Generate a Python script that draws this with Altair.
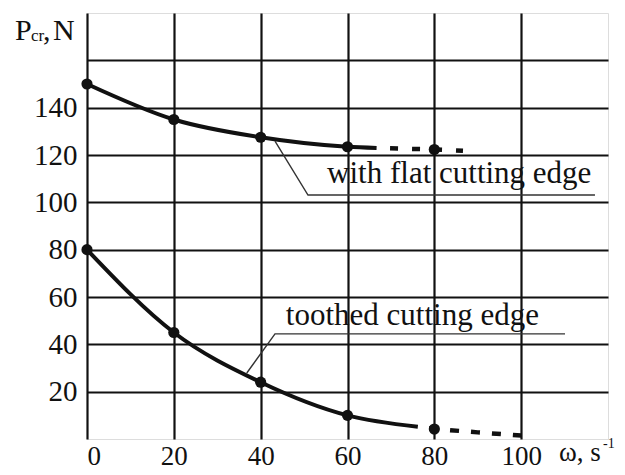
import altair as alt
import pandas as pd

# ---- data ----
omega = [0, 20, 40, 60, 80]
p_flat = [150, 135, 127.5, 123.5, 122.3]
p_tooth = [80, 45, 24, 10, 4.2]

flat_solid_w = [0, 20, 40, 60, 66.7]
flat_solid_p = [150, 135, 127.5, 123.5, 123.0]
flat_dash_w = [69.8, 80, 86.6]
flat_dash_p = [122.8, 122.3, 121.8]

tooth_solid_w = [0, 20, 40, 60, 76.2]
tooth_solid_p = [80, 45, 24, 10, 5.2]
tooth_dash_w = [78.8, 90, 100]
tooth_dash_p = [4.5, 2.8, 1.5]

x_ticks = [0, 20, 40, 60, 80, 100]
y_ticks = [20, 40, 60, 80, 100, 120, 140, 160]

labels = ["with flat cutting edge", "toothed cutting edge"]
label_w = [55.3, 45.8]
label_p = [108.2, 48.2]

leader_flat_w = [43.3, 50.9, 117.0]
leader_flat_p = [125.9, 103.1, 103.1]
leader_tooth_w = [36.8, 43.3, 110.1]
leader_tooth_p = [27.9, 44.4, 44.4]

# axis-title pieces (text, px offset from plot origin, font size)
title_txt = ["P", "cr", ",", "N", "ω, s", "-1"]
title_px = [-72, -56, -44, -34, 472, 516]
title_py = [27, 28, 27, 27, 448, 435]
title_fs = [30, 17, 30, 30, 27, 14]

FONT = "Liberation Serif"
INK = "#111111"

xs = alt.Scale(domain=[0, 120], nice=False, zero=False)
ys = alt.Scale(domain=[0, 180], nice=False, zero=False)


def df_line(w, p):
    return pd.DataFrame({"w": w, "p": p, "o": list(range(len(w)))})


X = alt.X("w:Q", scale=xs, axis=alt.Axis(values=x_ticks, grid=True, gridColor=INK, gridWidth=2.2,
                                          gridOpacity=1, domain=False, ticks=False, labelFont=FONT,
                                          labelFontSize=27, labelColor=INK, labelPadding=4, title=None))
Y = alt.Y("p:Q", scale=ys, axis=alt.Axis(values=y_ticks, grid=True, gridColor=INK, gridWidth=2.2,
                                          gridOpacity=1, domain=False, ticks=False, labelFont=FONT,
                                          labelFontSize=29, labelColor=INK, labelPadding=10, title=None,
                                          labelExpr="datum.value == 160 ? '' : datum.label"))

xp = alt.X("w:Q", scale=xs)
yp = alt.Y("p:Q", scale=ys)

base = alt.Chart(df_line(flat_solid_w, flat_solid_p)).mark_line(
    color=INK, strokeWidth=4, interpolate="monotone").encode(x=X, y=Y, order="o:Q")

layers = [base]
layers.append(alt.Chart(df_line(tooth_solid_w, tooth_solid_p)).mark_line(
    color=INK, strokeWidth=4, interpolate="monotone").encode(x=xp, y=yp, order="o:Q"))
layers.append(alt.Chart(df_line(flat_dash_w, flat_dash_p)).mark_line(
    color=INK, strokeWidth=4.5, strokeDash=[8, 14], strokeCap="butt", interpolate="monotone"
).encode(x=xp, y=yp, order="o:Q"))
layers.append(alt.Chart(df_line(tooth_dash_w, tooth_dash_p)).mark_line(
    color=INK, strokeWidth=4.5, strokeDash=[9, 12], strokeCap="butt", interpolate="monotone"
).encode(x=xp, y=yp, order="o:Q"))
layers.append(alt.Chart(df_line(leader_flat_w, leader_flat_p)).mark_line(
    color="#333333", strokeWidth=1.4).encode(x=xp, y=yp, order="o:Q"))
layers.append(alt.Chart(df_line(leader_tooth_w, leader_tooth_p)).mark_line(
    color="#333333", strokeWidth=1.4).encode(x=xp, y=yp, order="o:Q"))

pts = pd.DataFrame({"w": omega + omega, "p": p_flat + p_tooth})
layers.append(alt.Chart(pts).mark_circle(color=INK, size=125, opacity=1).encode(x=xp, y=yp))

lab = pd.DataFrame({"t": labels, "w": label_w, "p": label_p})
layers.append(alt.Chart(lab).mark_text(font=FONT, fontSize=31, color=INK, align="left",
                                       baseline="alphabetic").encode(x=xp, y=yp, text="t:N"))

ttl = pd.DataFrame({"t": title_txt, "px": title_px, "py": title_py, "fs": title_fs})
layers.append(alt.Chart(ttl).mark_text(font=FONT, color=INK, align="left", baseline="alphabetic").encode(
    x=alt.X("px:Q", scale=None), y=alt.Y("py:Q", scale=None),
    size=alt.Size("fs:Q", scale=None, legend=None), text="t:N"))

chart = alt.layer(*layers).properties(
    width=521, height=426,
    autosize=alt.AutoSizeParams(type="none"),
    padding={"left": 79, "top": 5, "right": 9, "bottom": 28},
).configure_view(stroke=INK, strokeWidth=3).configure(background="white")

chart.save("out.html", embed_options={"renderer": "svg", "actions": False})
